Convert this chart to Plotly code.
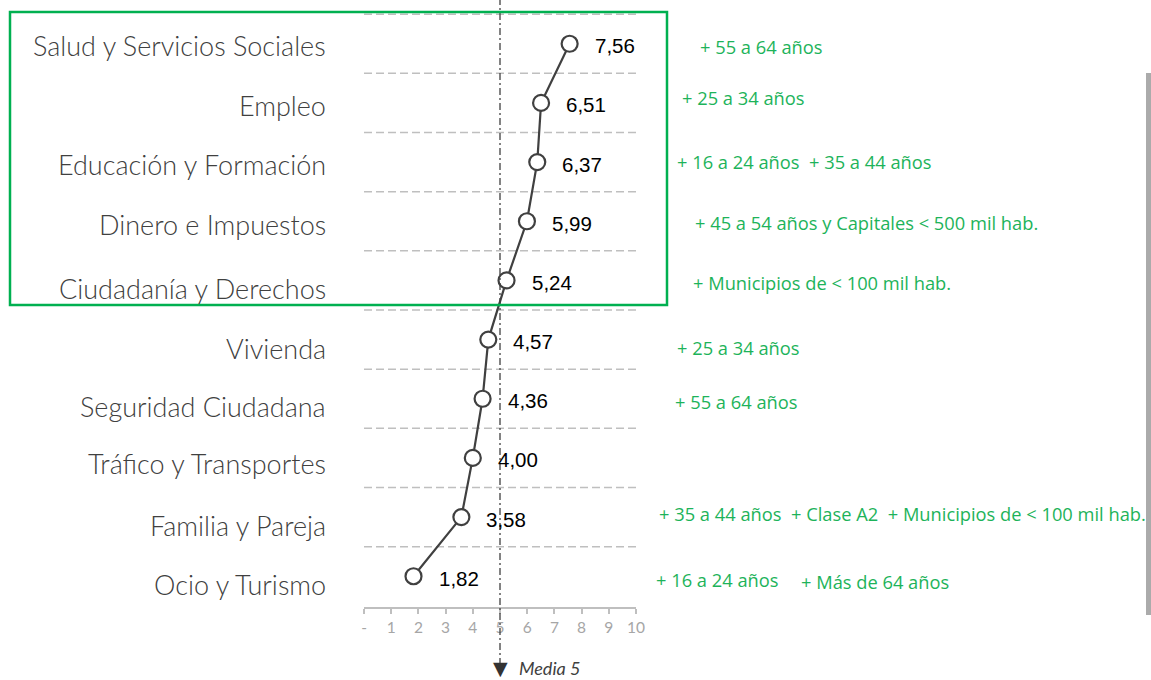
import plotly.graph_objects as go

# --- data -------------------------------------------------------------
categories = [
    "Salud y Servicios Sociales",
    "Empleo",
    "Educación y Formación",
    "Dinero e Impuestos",
    "Ciudadanía y Derechos",
    "Vivienda",
    "Seguridad Ciudadana",
    "Tráfico y Transportes",
    "Familia y Pareja",
    "Ocio y Turismo",
]
values = [7.56, 6.51, 6.37, 5.99, 5.24, 4.57, 4.36, 4.00, 3.58, 1.82]
tick_values = list(range(0, 11))
tick_labels = ["-", "1", "2", "3", "4", "5", "6", "7", "8", "9", "10"]
media = 5

NB = "\u00a0"
# (row, note text)
notes = [
    (0, "+ 55 a 64 años"),
    (1, "+ 25 a 34 años"),
    (2, "+ 16 a 24 años" + NB + NB + "+ 35 a 44 años"),
    (3, "+ 45 a 54 años y Capitales < 500 mil hab."),
    (4, "+ Municipios de < 100 mil hab."),
    (5, "+ 25 a 34 años"),
    (6, "+ 55 a 64 años"),
    (8, "+ 35 a 44 años" + NB + NB + "+ Clase A2" + NB + NB + "+ Municipios de < 100 mil hab."),
    (9, "+ 16 a 24 años"),
    (9, "+ Más de 64 años"),
]
# placement of each note: (left edge px, vertical nudge px)
note_place = [(698, -3), (680, 5), (675, 1), (693, -1), (691, -2),
              (675, -8), (673, -2.5), (657, 4), (654, -3), (799, -5)]
# vertical nudge of the category labels, px
label_nudge = [-2, -3, -2.5, -3.5, -8, -9, -8, -5.5, -8.5, -8]

# --- geometry ---------------------------------------------------------
W, H = 1151, 680
ML, MR, MT, MB = 364, 515, 13, 73
PW, PH = W - ML - MR, H - MT - MB


def px_x(p):
    return (p - ML) / PW


def px_y(p):
    return (H - MB - p) / PH


DARK = "#404040"
GRID = "#bfbfbf"
GREEN = "#1db35a"
rows = list(range(len(categories)))

fig = go.Figure()
fig.add_trace(go.Scatter(
    x=values, y=rows, mode="lines+markers",
    line=dict(color=DARK, width=2.2),
    marker=dict(size=16, color="white", line=dict(color=DARK, width=2.2)),
    cliponaxis=False, hoverinfo="skip", showlegend=False,
))

shapes = []
# dashed separators between rows
for r in rows:
    shapes.append(dict(type="line", xref="x", yref="y", x0=0, x1=10,
                       y0=r - 0.5, y1=r - 0.5, layer="below",
                       line=dict(color=GRID, width=1.5, dash="8px,4px")))
# average line
mx = media / 10
shapes.append(dict(type="line", xref="paper", yref="paper", x0=mx, x1=mx,
                   y0=px_y(665), y1=px_y(0),
                   line=dict(color=DARK, width=1.3, dash="7px,3px,2px,3px")))
# highlight box
shapes.append(dict(type="rect", xref="paper", yref="paper",
                   x0=px_x(10), x1=px_x(667), y0=px_y(305), y1=px_y(12),
                   line=dict(color="#00b050", width=2.5)))
# right edge bar
shapes.append(dict(type="rect", xref="paper", yref="paper",
                   x0=px_x(1146), x1=px_x(1152), y0=px_y(615), y1=px_y(73),
                   fillcolor="#ababab", line=dict(width=0)))

annotations = []
for r, (cat, nud) in enumerate(zip(categories, label_nudge)):
    annotations.append(dict(
        x=px_x(328), y=r, xref="paper", yref="y", text=cat,
        xanchor="right", yanchor="middle", yshift=nud, showarrow=False,
        font=dict(family="Lato", size=27, color=DARK, weight=300)))
for r, v in enumerate(values):
    annotations.append(dict(
        x=v, y=r, xref="x", yref="y", text=f"{v:.2f}".replace(".", ","),
        xanchor="left", yanchor="middle", xshift=23, yshift=-2,
        showarrow=False,
        font=dict(family="Liberation Sans", size=20.5, color="black")))
for (r, txt), (lx, nud) in zip(notes, note_place):
    annotations.append(dict(
        x=px_x(lx), y=r, xref="paper", yref="y", text=txt,
        xanchor="left", yanchor="middle", yshift=nud, showarrow=False,
        font=dict(family="Open Sans", size=18.3, color=GREEN)))
annotations.append(dict(
    x=mx, y=px_y(680), xref="paper", yref="paper", text="▼",
    xanchor="center", yanchor="bottom", showarrow=False, borderpad=0,
    font=dict(family="DejaVu Sans", size=19, color="#333333")))
annotations.append(dict(
    x=px_x(518), y=px_y(680), xref="paper", yref="paper",
    text=f"<i>Media {media}</i>",
    xanchor="left", yanchor="bottom", showarrow=False, borderpad=0,
    font=dict(family="Lato", size=18, color=DARK)))

fig.update_layout(
    width=W, height=H,
    margin=dict(l=ML, r=MR, t=MT, b=MB, pad=0),
    paper_bgcolor="white", plot_bgcolor="white",
    shapes=shapes, annotations=annotations,
    xaxis=dict(range=[0, 10], tickvals=tick_values, ticktext=tick_labels,
               showline=True, linecolor=GRID, linewidth=2,
               ticks="outside", ticklen=5, tickcolor=GRID, tickwidth=1.5,
               tickfont=dict(family="Lato", size=15.5, color="#a6a6a6"),
               showgrid=False, zeroline=False, fixedrange=True),
    yaxis=dict(range=[9.52, -0.52], visible=False, showgrid=False,
               zeroline=False, fixedrange=True),
)

fig.write_html("out.html", config={"displayModeBar": False})
